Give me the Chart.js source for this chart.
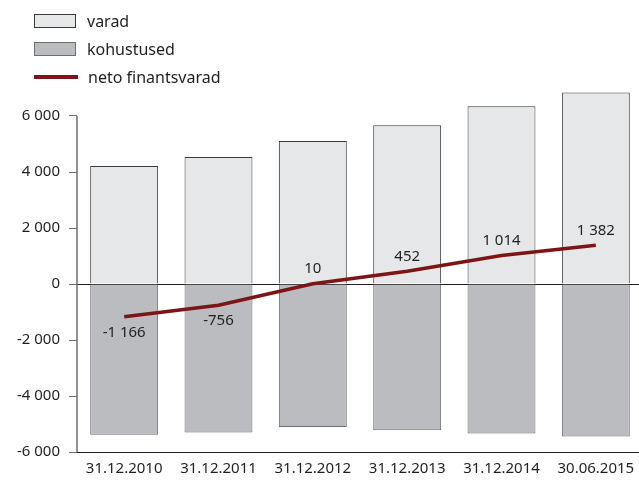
<!DOCTYPE html>
<html>
<head>
<meta charset="utf-8">
<script src="https://cdn.jsdelivr.net/npm/chart.js@4/dist/chart.umd.min.js"></script>
<style>
  html, body { margin: 0; padding: 0; background: #fff; overflow: hidden; }
  #wrap { position: relative; width: 645px; height: 490px; }
  #legend { position: absolute; left: 34px; top: 7px; font-family: "Noto Sans", sans-serif; font-size: 16px; color: #231f20; }
  .item { height: 28px; display: flex; align-items: center; }
  .swatch { width: 42px; height: 14px; margin-right: 11px; box-sizing: border-box; }
  .lineswatch { width: 44px; height: 4px; margin-right: 10px; }
</style>
</head>
<body>
<div id="wrap">
  <canvas id="chart" width="645" height="490"></canvas>
  <div id="legend"></div>
</div>
<script>
// data
const labels = ["31.12.2010", "31.12.2011", "31.12.2012", "31.12.2013", "31.12.2014", "30.06.2015"];
const varad = [4210, 4540, 5110, 5670, 6350, 6840];
const kohustused = [-5380, -5300, -5110, -5220, -5340, -5450];
const neto = [-1166, -756, 10, 452, 1014, 1382];
const yTicks = [-6000, -4000, -2000, 0, 2000, 4000, 6000];

const font = "'Noto Sans', sans-serif";
const textColor = "#231f20";

function fmt(v) {
  return String(v).replace(/\B(?=(\d{3})+(?!\d))/g, " ");
}

// value labels next to the line points
const labelPlugin = {
  id: "netoLabels",
  afterDatasetsDraw(chart) {
    const ctx = chart.ctx;
    const meta = chart.getDatasetMeta(2);
    const place = ["below", "below", "above", "above", "above", "above"];
    ctx.save();
    ctx.font = "15px " + font;
    ctx.fillStyle = textColor;
    ctx.textAlign = "center";
    ctx.textBaseline = "middle";
    meta.data.forEach((pt, i) => {
      const dy = place[i] === "above" ? -15 : 16;
      ctx.fillText(fmt(neto[i]), pt.x, pt.y + dy);
    });
    ctx.restore();
  },
};

// y axis line only between the lowest and highest tick
const axisLine = {
  id: "axisLine",
  afterDraw(chart) {
    const y = chart.scales.y;
    const ctx = chart.ctx;
    const x = chart.chartArea.left;
    ctx.save();
    ctx.strokeStyle = "#6d6e71";
    ctx.lineWidth = 1.5;
    ctx.beginPath();
    ctx.moveTo(x, y.getPixelForValue(yTicks[yTicks.length - 1]));
    ctx.lineTo(x, y.getPixelForValue(yTicks[0]));
    ctx.stroke();
    ctx.restore();
  },
};

const chart = new Chart(document.getElementById("chart"), {
  type: "bar",
  data: {
    labels: labels,
    datasets: [
      {
        label: "varad",
        data: varad,
        backgroundColor: "#e6e7e9",
        borderColor: "#3a3a3a",
        borderWidth: 1,
        stack: "bars",
        order: 1,
      },
      {
        label: "kohustused",
        data: kohustused,
        backgroundColor: "#bbbcbf",
        borderColor: "#6d6e71",
        borderWidth: 1,
        stack: "bars",
        order: 1,
      },
      {
        type: "line",
        label: "neto finantsvarad",
        data: neto,
        borderColor: "#7d1416",
        borderWidth: 3.5,
        pointRadius: 0,
        tension: 0,
        stack: "line",
        order: 0,
      },
    ],
  },
  options: {
    responsive: false,
    animation: false,
    layout: { padding: { top: 88, right: 2, left: 0, bottom: 0 } },
    datasets: { bar: { barPercentage: 0.72, categoryPercentage: 1 } },
    plugins: { legend: { display: false }, tooltip: { enabled: false } },
    scales: {
      x: {
        stacked: true,
        grid: { display: false },
        border: { display: false },
        ticks: { color: textColor, font: { family: font, size: 15 }, padding: 0 },
        afterFit(scale) { scale.height = 38; },
      },
      y: {
        stacked: true,
        min: -6000,
        max: 7000,
        afterBuildTicks(scale) {
          scale.ticks = yTicks.map((v) => ({ value: v }));
        },
        afterFit(scale) { scale.width = 77; },
        grid: {
          color: (c) => (c.tick && (c.tick.value === 0 || c.tick.value === -6000) ? "#231f20" : "rgba(0,0,0,0)"),
          tickColor: "#6d6e71",
          tickLength: 8,
          lineWidth: 1,
        },
        border: { display: false },
        ticks: {
          color: textColor,
          font: { family: font, size: 15 },
          padding: 9,
          callback: (v) => fmt(v),
        },
      },
    },
  },
  plugins: [labelPlugin, axisLine],
});

// legend built from the datasets
const legend = document.getElementById("legend");
chart.data.datasets.forEach((ds) => {
  const item = document.createElement("div");
  item.className = "item";
  const sw = document.createElement("div");
  if (ds.type === "line") {
    sw.className = "lineswatch";
    sw.style.background = ds.borderColor;
  } else {
    sw.className = "swatch";
    sw.style.background = ds.backgroundColor;
    sw.style.border = "1px solid " + ds.borderColor;
  }
  const tx = document.createElement("span");
  tx.textContent = ds.label;
  item.appendChild(sw);
  item.appendChild(tx);
  legend.appendChild(item);
});
</script>
</body>
</html>
